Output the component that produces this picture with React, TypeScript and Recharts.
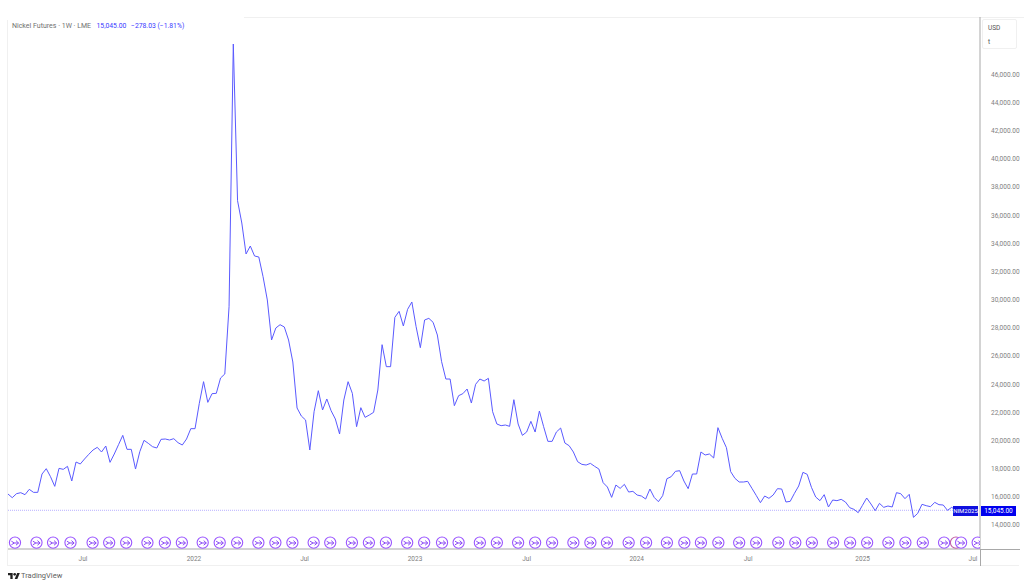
import React from 'react';
import { ComposedChart, Line, Scatter, XAxis, YAxis, ReferenceLine } from 'recharts';

const FONT = 'Roboto, sans-serif';
const LINE_BLUE = '#5a5aff';
const LAST_PRICE = 15045;

// weekly closes, USD/t
const prices2021 = [
  16200, 15940, 16224, 16295, 16153, 16532, 16319, 16319, 17621, 18000, 17432, 16745, 18024, 17953, 18166, 17124,
  18474, 18332, 18687, 19018, 19326, 19516, 19184, 19610, 18450, 19042, 19705, 20368, 19374, 19374, 17976, 19208,
  20013, 19800, 19563, 19468, 20084, 20108, 20037, 20131, 19847, 19681, 20108, 20842, 20842, 22641, 24181, 22712,
  23328, 23352,
];
const prices2022 = [
  24441, 24725, 29505, 48165, 37035, 35450, 33250, 33817, 33107, 33036, 31637, 29982, 27140, 27993, 28227, 28064,
  27140, 25578, 22310, 21742, 21458, 19327, 22048, 23539, 22168, 22950, 22119, 21529, 20464,
  22878, 24180, 23351, 20983, 22333, 21646, 21812, 22001, 23588, 26808, 25246, 25246, 28750, 29176, 28135, 29319, 29840,
];
const prices2023 = [
  28087, 26595, 28561, 28679, 28395, 27495, 25601, 24369, 24369, 22475, 23185, 23328, 23659, 22664, 23991, 24369,
  24227, 24417, 22049, 21173, 21054, 21102, 21007, 22901, 21173, 20368, 20604, 21362, 20604, 22096, 20983, 19941,
  19941, 20604, 20888, 19823, 19633, 19184, 18497, 18307, 18260, 18378, 18165, 17976, 17005, 16697, 15963, 16839,
  16602, 16887, 16342, 16389, 16129, 16058, 15845, 16555, 15963, 15655,
];
const prices2024 = [
  16082, 17289, 17431, 17810, 17858, 17125, 16580, 17622, 17622, 19185, 18972, 19043, 18759, 20914, 20156, 19493,
  17788, 17314, 17054, 17054, 17101, 16604, 16106, 15586, 16059, 15893, 16130, 16580, 16556, 15633, 15680, 16249,
  16770, 17740, 17598, 16675, 15988, 15728, 16154, 15278, 15775, 15728, 15822, 15633, 15230, 15112, 14875,
];
const prices2025 = [
  15396, 15917, 15491, 15017, 15538, 15254, 15349, 15278, 16296, 16225, 15870, 16178, 14544, 14828, 15467, 15372,
  15301, 15609, 15443, 15420, 15041, 15254, LAST_PRICE,
];
const prices = [...prices2021, ...prices2022, ...prices2023, ...prices2024, ...prices2025];

const timeTicks = [17.64, 43.75, 69.75, 95.74, 122, 147.9, 174.1, 201.05, 227];
const timeLabels = ['Jul', '2022', 'Jul', '2023', 'Jul', '2024', 'Jul', '2025', 'Jul'];
const priceTicks = [
  14000, 16000, 18000, 20000, 22000, 24000, 26000, 28000, 30000, 32000, 34000, 36000, 38000, 40000, 42000, 44000, 46000,
];

// contract roll markers along the bottom of the pane
const rollWeeks = [
  1.64, 6.7, 10.6, 14.7, 19.9, 23.8, 27.8, 32.8, 36.9, 40.9, 45.8, 49.8, 53.9, 58.9, 62.9, 66.9, 71.9, 75.8, 80.9, 84.9,
  88.9, 93.9, 97.9, 102.1, 106, 111, 115, 120, 124, 128, 133, 137, 140.9, 146, 150.1, 155, 159.1, 163, 167.1, 172, 176,
  181.2, 185.2, 189.1, 194.1, 198.1, 202.1, 207.1, 211.1, 215.2, 220.2, 224.2, 228.1,
];
const earningsWeeks = [223];
const MARKER_LEVEL = 12750;

const chartData = prices.map((price, week) => ({ week, price }));
const rollData = rollWeeks.map((week) => ({ week, marker: MARKER_LEVEL }));
const earningsData = earningsWeeks.map((week) => ({ week, marker: MARKER_LEVEL }));

const RollIcon = ({ cx, cy }: any) => (
  <g clipPath="url(#paneClip)">
    <circle cx={cx} cy={cy} r={5.6} fill="#fff" stroke="#9a55ff" strokeWidth={1.1} />
    <path
      d={`M${cx - 3.6} ${cy - 1.4} L${cx - 0.6} ${cy + 0.4} L${cx + 3.6} ${cy + 0.4} M${cx + 1} ${cy - 2} L${cx + 3.6} ${cy + 0.4} L${cx + 1} ${cy + 2.6} M${cx - 3.6} ${cy + 2.2} L${cx - 0.6} ${cy + 0.4}`}
      fill="none"
      stroke="#8a48f5"
      strokeWidth={1}
    />
  </g>
);

const EarningsIcon = ({ cx, cy }: any) => (
  <circle cx={cx} cy={cy} r={5.6} fill="#fff" stroke="#c05fa8" strokeWidth={1.1} />
);

const rule = (left: number, top: number, width: number, height: number, background: string) => (
  <div style={{ position: 'absolute', left, top, width, height, background }} />
);

export default function App() {
  return (
    <div style={{ position: 'absolute', left: 0, top: 0, width: 1024, height: 586, background: '#fff', fontFamily: FONT, overflow: 'hidden' }}>
      {rule(7, 20, 1, 545, '#f0f0f0')}
      {rule(244, 17, 780, 1, '#f0f0f0')}
      {rule(7, 565, 1012, 1, '#f0f0f0')}

      <div style={{ position: 'absolute', left: 0, top: 0 }}>
        <ComposedChart width={1024} height={586} data={chartData} margin={{ top: 17, right: 0, bottom: 21, left: 8 }}>
          <defs>
            <clipPath id="paneClip">
              <rect x={8} y={17} width={972} height={532} />
            </clipPath>
          </defs>
          <XAxis
            dataKey="week"
            type="number"
            domain={[0, 228.65]}
            ticks={timeTicks}
            tickFormatter={(_v, i) => timeLabels[i]}
            interval={0}
            height={16}
            tickLine={false}
            axisLine={{ stroke: '#a8a8a8' }}
            tick={{ fontSize: 6.5, fill: '#808080', fontFamily: FONT }}
            tickMargin={1}
            allowDataOverflow
          />
          <YAxis
            orientation="right"
            type="number"
            width={44}
            domain={[12295, 50083]}
            ticks={priceTicks}
            interval={0}
            tickFormatter={(v) => v.toLocaleString('en-US', { minimumFractionDigits: 2 })}
            tickLine={false}
            axisLine={{ stroke: '#a8a8a8' }}
            tick={{ fontSize: 6.5, fill: '#808080', fontFamily: FONT }}
            tickMargin={5}
            allowDataOverflow
          />
          <ReferenceLine
            segment={[{ x: 0, y: LAST_PRICE }, { x: 223, y: LAST_PRICE }]}
            stroke="#b8b0ff"
            strokeDasharray="1 1"
          />
          <Line dataKey="price" type="linear" stroke={LINE_BLUE} strokeWidth={1} dot={false} isAnimationActive={false} />
          <Scatter data={earningsData} dataKey="marker" shape={EarningsIcon} isAnimationActive={false} />
          <Scatter data={rollData} dataKey="marker" shape={RollIcon} isAnimationActive={false} />
        </ComposedChart>
      </div>

      {rule(980, 549, 40, 1, '#a8a8a8')}
      {rule(980, 549, 1, 17, '#a8a8a8')}

      <div style={{ position: 'absolute', left: 12, top: 21, fontSize: 7, lineHeight: '10px', whiteSpace: 'nowrap', color: '#707070' }}>
        Nickel Futures · 1W · LME
        <span style={{ position: 'absolute', left: 84.5, top: 0, color: '#3a3aff', fontSize: 6.8 }}>15,045.00</span>
        <span style={{ position: 'absolute', left: 119, top: 0, color: '#3a3aff', fontSize: 6.8 }}>−278.03 (−1.81%)</span>
      </div>

      <div style={{ position: 'absolute', left: 982, top: 19, width: 33, height: 28, border: '1px solid #f0f0f0', borderRadius: 2, fontSize: 6.5, color: '#555' }}>
        <div style={{ position: 'absolute', left: 5, top: 3, lineHeight: '10px' }}>USD</div>
        <div style={{ position: 'absolute', left: 5, top: 17, lineHeight: '10px' }}>t</div>
      </div>

      <div style={{ position: 'absolute', left: 953, top: 506, width: 25, height: 10, background: '#1010e0', color: '#fff', fontSize: 6, lineHeight: '10px', textAlign: 'center' }}>
        NIM2025
      </div>
      <div style={{ position: 'absolute', left: 981, top: 506, width: 35, height: 10, background: '#0000ee', color: '#fff', fontSize: 6.5, lineHeight: '10px', textAlign: 'center' }}>
        15,045.00
      </div>

      <svg style={{ position: 'absolute', left: 7.5, top: 572.7 }} width={12} height={6} viewBox="0 4 36 18">
        <path d="M14 22H7V11H0V4h14v18zM28 22h-8l7.5-18h8L28 22z" fill="#222" />
        <circle cx={20} cy={8} r={4} fill="#222" />
      </svg>
      <div style={{ position: 'absolute', left: 21, top: 570, fontSize: 7.5, lineHeight: '11px', color: '#606060' }}>TradingView</div>
    </div>
  );
}
